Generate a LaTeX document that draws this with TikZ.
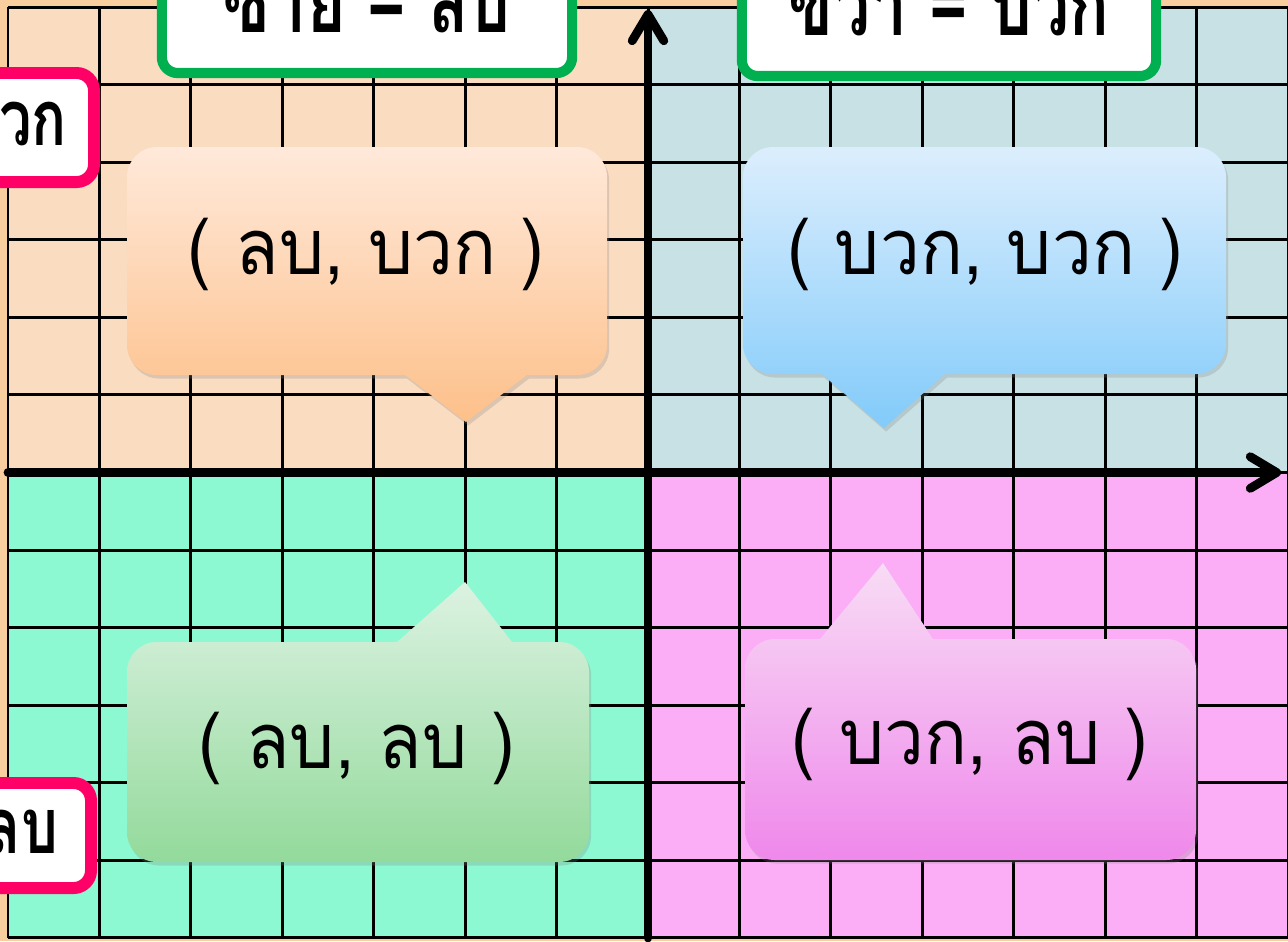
\documentclass[tikz,border=0pt]{standalone}
\usepackage{fontspec}
\newfontfamily\thaifont[Script=Thai, FakeStretch=0.92]{Loma}
\newfontfamily\thaicond[Script=Thai, FakeStretch=0.75]{Loma}
\usetikzlibrary{arrows.meta,shadows}

\definecolor{outerbg}{HTML}{F8CE9F}
\definecolor{quadNW}{HTML}{FADCC1}
\definecolor{quadNE}{HTML}{C8E1E5}
\definecolor{quadSW}{HTML}{8DF9D2}
\definecolor{quadSE}{HTML}{FBAEF6}
\definecolor{labelgreen}{HTML}{00B050}
\definecolor{labelpink}{HTML}{FF0066}
\definecolor{nwTop}{HTML}{FFE9DA}
\definecolor{nwBot}{HTML}{FDC08A}
\definecolor{neTop}{HTML}{DCEEFD}
\definecolor{neBot}{HTML}{82CBFA}
\definecolor{swTop}{HTML}{DCF2E2}
\definecolor{swBot}{HTML}{93DA9B}
\definecolor{seTop}{HTML}{F8DCF5}
\definecolor{seBot}{HTML}{EF88EB}

\begin{document}
\begin{tikzpicture}[
  x=0.01cm, y=-0.01cm,
  gridline/.style={line width=0.85pt, black},
  axisline/.style={line width=2.5pt, line cap=round, -{Straight Barb[length=7.5pt, width=9pt, line cap=round, line join=round]}},
  toplabel/.style={draw=labelgreen, fill=white, line width=2.9pt, rounded corners=4.5pt, minimum width=4.1cm,
    text height=0.45cm, text depth=0.35cm, inner ysep=0.06cm, font=\thaicond\bfseries\fontsize{25}{30}\selectfont},
  sidelabel/.style={draw=labelpink, fill=white, line width=3.4pt, rounded corners=5pt, anchor=east,
    text height=0.45cm, text depth=0.1cm, font=\thaicond\bfseries\fontsize{22}{26}\selectfont},
  bubble/.style={drop shadow={opacity=0.25, shadow xshift=0.6pt, shadow yshift=-1pt}},
  bubbletext/.style={font=\thaifont\fontsize{22}{26}\selectfont}
]
\useasboundingbox (0,0) rectangle (1288,941);
\clip (0,0) rectangle (1288,941);

\fill[outerbg] (0,0) rectangle (1288,941);
\fill[quadNW] (8,7) rectangle (648,472.5);
\fill[quadNE] (648,7) rectangle (1288,472.5);
\fill[quadSW] (8,472.5) rectangle (648,938);
\fill[quadSE] (648,472.5) rectangle (1288,938);

\foreach \i in {0,...,14}
  \draw[gridline] ({8+\i*91.43},7) -- ({8+\i*91.43},938);
\foreach \j in {0,...,12}
  \draw[gridline] (8,{7+\j*77.58}) -- (1288,{7+\j*77.58});

\coordinate (xstart) at (8,472.5);
\coordinate (xend) at (1281,472.5);
\coordinate (ystart) at (648,938);
\coordinate (yend) at (648,10);
\draw[axisline] (xstart) -- (xend);
\draw[axisline] (ystart) -- (yend);

\path[bubble, top color=nwTop, bottom color=nwBot]
  (405,375) [rounded corners=8.5pt] -- (127,375) -- (127,147) -- (607,147) -- (607,375)
  [sharp corners] -- (527,375) -- (466,422) -- cycle;
\path[bubble, top color=neTop, bottom color=neBot]
  (822,374) [rounded corners=8.5pt] -- (743,374) -- (743,147) -- (1226,147) -- (1226,374)
  [sharp corners] -- (945,374) -- (884,428) -- cycle;
\path[bubble, top color=swTop, bottom color=swBot]
  (397,642) [rounded corners=8.5pt] -- (127,642) -- (127,862) -- (589,862) -- (589,642)
  [sharp corners] -- (512,642) -- (465,582) -- cycle;
\path[bubble, top color=seTop, bottom color=seBot]
  (820,639) [rounded corners=8.5pt] -- (745,639) -- (745,860) -- (1196,860) -- (1196,639)
  [sharp corners] -- (933,639) -- (883,563) -- cycle;

\node[bubbletext] (negpos) at (366,254) {( ลบ, บวก )};
\node[bubbletext] (pospos) at (985,254) {( บวก, บวก )};
\node[bubbletext] (negneg) at (357,748) {( ลบ, ลบ )};
\node[bubbletext] (posneg) at (970,744) {( บวก, ลบ )};

\node[toplabel] (leftside) at (367,27) {ซ้าย = ลบ};
\node[toplabel, minimum width=4.14cm] (rightside) at (949,30) {ขวา = บวก};

\node[sidelabel, inner xsep=0.27cm, inner ysep=0.27cm] (upside) at (100,127.5) {บน = บวก};
\node[sidelabel, inner xsep=0.33cm, inner ysep=0.25cm] (downside) at (97,835.5) {ล่าง = ลบ};
\end{tikzpicture}
\end{document}
